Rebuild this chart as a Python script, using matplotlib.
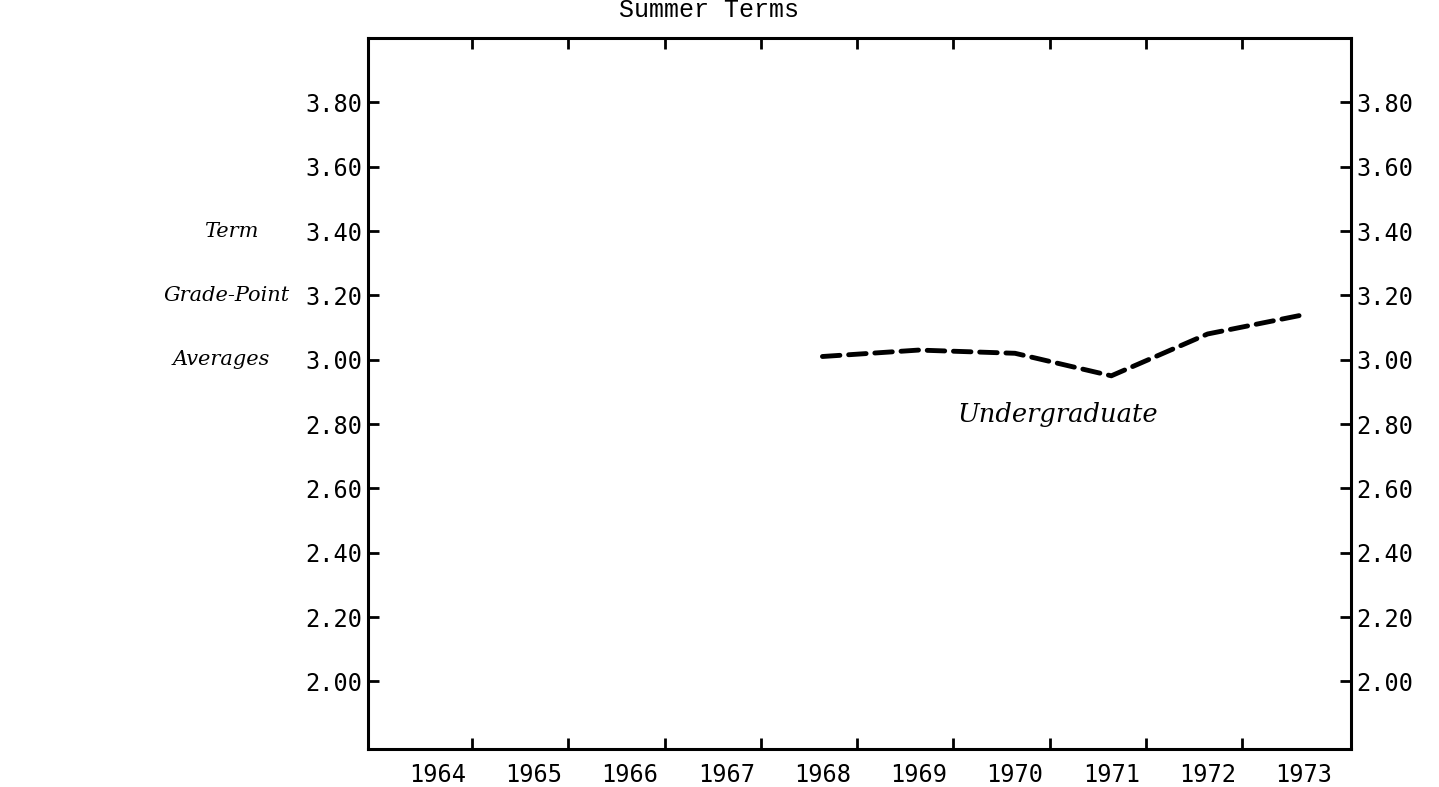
import matplotlib
matplotlib.use("Agg")
import matplotlib.pyplot as plt

# summer-term undergraduate GPA
years = [1968, 1969, 1970, 1971, 1972, 1973]
gpa = [3.01, 3.03, 3.02, 2.95, 3.08, 3.14]

year_labels = [1964, 1965, 1966, 1967, 1968, 1969, 1970, 1971, 1972, 1973]
gpa_ticks = [2.00, 2.20, 2.40, 2.60, 2.80, 3.00, 3.20, 3.40, 3.60, 3.80]
# typed chart puts the tick marks between the year labels, offset to the right
tick_offset = 0.36

tick_font = "DejaVu Sans Mono"
type_font = "Liberation Mono"
italic_font = "DejaVu Serif"


def main() -> None:
    fig = plt.figure(figsize=(14.39, 7.87), dpi=100)
    ax = fig.add_axes([0.2557, 0.0483, 0.6832, 0.9034])

    ax.plot(years, gpa, color="black", lw=3.5, linestyle=(0, (3.6, 1.8)),
            dash_capstyle="round", solid_capstyle="round")

    ax.set_xlim(1963.28, 1973.49)
    ax.set_ylim(1.79, 4.0)

    # year labels without marks, marks on minor ticks
    ax.set_xticks(year_labels)
    ax.set_xticklabels([str(y) for y in year_labels], fontfamily=tick_font, fontsize=17)
    ax.set_xticks([y + tick_offset for y in year_labels[:-1]], minor=True)
    ax.tick_params(axis="x", which="major", length=0, pad=10)
    ax.tick_params(axis="x", which="minor", direction="in", length=8, width=2,
                   top=True, bottom=True)

    ax.set_yticks(gpa_ticks)
    ax.set_yticklabels([f"{v:.2f}" for v in gpa_ticks], fontfamily=tick_font, fontsize=17)
    ax.tick_params(axis="y", direction="in", length=8, width=2,
                   left=True, right=True, labelleft=True, labelright=True, pad=4)

    for s in ax.spines.values():
        s.set_linewidth(2.2)

    fig.text(0.493, 0.987, "Summer Terms", ha="center", va="center",
             fontfamily=type_font, fontsize=18)

    for txt, x, y in [("Term", 1961.86, 3.40), ("Grade-Point", 1961.81, 3.20),
                      ("Averages", 1961.76, 3.00)]:
        ax.text(x, y, txt, ha="center", va="center", style="italic",
                fontfamily=italic_font, fontsize=15, clip_on=False)

    ax.text(1970.45, 2.83, "Undergraduate", ha="center", va="center", style="italic",
            fontfamily=italic_font, fontsize=18.5)

    fig.savefig("out.png", dpi=100)
    plt.close(fig)


if __name__ == "__main__":
    main()
